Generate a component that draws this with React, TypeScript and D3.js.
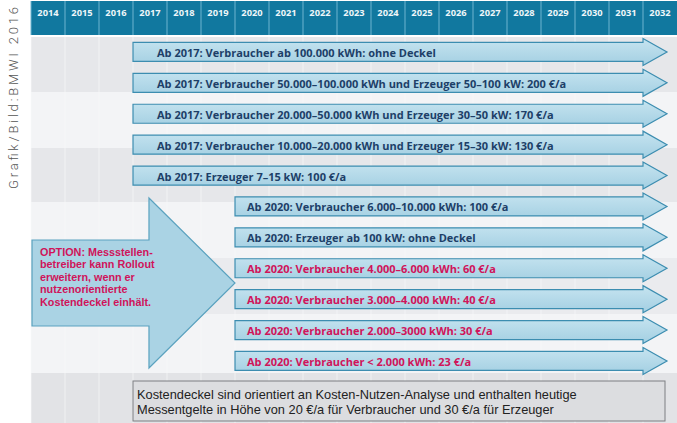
import React from "react";
import * as d3 from "d3";

// Zeitachse
const years = ["2014", "2015", "2016", "2017", "2018", "2019", "2020", "2021", "2022", "2023",
  "2024", "2025", "2026", "2027", "2028", "2029", "2030", "2031", "2032"];

// Rollout-Gruppen: Text, Startjahr, Pflicht oder Option
const labels = [
  "Ab 2017: Verbraucher ab 100.000 kWh: ohne Deckel",
  "Ab 2017: Verbraucher 50.000–100.000 kWh und Erzeuger 50–100 kW: 200 €/a",
  "Ab 2017: Verbraucher 20.000–50.000 kWh und Erzeuger 30–50 kW: 170 €/a",
  "Ab 2017: Verbraucher 10.000–20.000 kWh und Erzeuger 15–30 kW: 130 €/a",
  "Ab 2017: Erzeuger 7–15 kW: 100 €/a",
  "Ab 2020: Verbraucher 6.000–10.000 kWh: 100 €/a",
  "Ab 2020: Erzeuger ab 100 kW: ohne Deckel",
  "Ab 2020: Verbraucher 4.000–6.000 kWh: 60 €/a",
  "Ab 2020: Verbraucher 3.000–4.000 kWh: 40 €/a",
  "Ab 2020: Verbraucher 2.000–3000 kWh: 30 €/a",
  "Ab 2020: Verbraucher < 2.000 kWh: 23 €/a",
];
const startYears = ["2017", "2017", "2017", "2017", "2017", "2020", "2020", "2020", "2020", "2020", "2020"];
const kinds = ["pflicht", "pflicht", "pflicht", "pflicht", "pflicht", "pflicht", "pflicht",
  "option", "option", "option", "option"];

const optionLines = [
  "OPTION: Messstellen-",
  "betreiber kann Rollout",
  "erweitern, wenn er",
  "nutzenorientierte",
  "Kostendeckel einhält.",
];
const noteLines = [
  "Kostendeckel sind orientiert an Kosten-Nutzen-Analyse und enthalten heutige",
  "Messentgelte in Höhe von 20 €/a für Verbraucher und 30 €/a für Erzeuger",
];
const credit = "Grafik/Bild:BMWI 2016";

const width = 677;
const height = 423;
const blue = "#1d3f68";
const red = "#d0145a";
const font = "'Open Sans', sans-serif";
const narrow = "'Liberation Sans', Arial, sans-serif";

export default function App() {
  const x = d3.scaleBand().domain(years).range([31, 677]);
  const rows = d3.range(labels.length);
  const y = d3.scaleBand<number>().domain(rows).range([36.5, 376.4]);
  const bw = x.bandwidth();

  // background stripes
  const stripes = [
    [37, 92, "#e6e7ea"], [92, 148, "#f3f4f6"], [148, 202, "#e6e7ea"], [202, 258, "#f3f4f6"],
    [258, 314, "#eaebee"], [314, 373, "#f3f4f6"], [373, 423, "#e2e3e6"],
  ] as [number, number, string][];

  const shaftH = 9.5;
  const headH = 13.5;
  const endX = (x("2031") as number) + bw;
  const tipX = endX + 24;

  const arrowPath = (x0: number, cy: number) =>
    `M${x0},${cy - shaftH} L${endX},${cy - shaftH} L${endX},${cy - headH} L${tipX},${cy} ` +
    `L${endX},${cy + headH} L${endX},${cy + shaftH} L${x0},${cy + shaftH} Z`;

  // big option arrow
  const oc = 283;
  const oLeft = (x("2014") as number) + 1;
  const oBase = (x("2017") as number) + bw * 0.47;
  const oTip = x("2020") as number;
  const bigArrow =
    `M${oLeft},${oc - 43} L${oBase},${oc - 43} L${oBase},${oc - 85} L${oTip},${oc} ` +
    `L${oBase},${oc + 85} L${oBase},${oc + 43} L${oLeft},${oc + 43} Z`;

  return (
    <svg width={width} height={height} style={{ position: "absolute", left: 0, top: 0, background: "#fff" }}>
      <defs>
        <linearGradient id="barFill" x1="0" y1="0" x2="0" y2="1">
          <stop offset="0" stopColor="#c6e4f0" />
          <stop offset="1" stopColor="#a3cfe2" />
        </linearGradient>
      </defs>

      {stripes.map(([a, b, c], i) => (
        <rect key={i} x={31} y={a} width={width - 31} height={b - a} fill={c} />
      ))}
      {years.map((yr) => (
        <line key={yr} x1={x(yr)} x2={x(yr)} y1={37} y2={height} stroke="#fafbfc" strokeWidth={1} opacity={0.6} />
      ))}

      {/* header */}
      <rect x={31} y={1} width={width - 31} height={34} fill="#11789f" />
      {years.map((yr) => (
        <g key={yr}>
          <line x1={x(yr)} x2={x(yr)} y1={1} y2={35} stroke="#6fb4d0" strokeWidth={1} />
          <text x={(x(yr) as number) + bw / 2} y={12.5} textAnchor="middle" dominantBaseline="central"
            fill="#eef6f9" fontFamily={font} fontWeight={700} fontSize={9.3}>{yr}</text>
        </g>
      ))}

      {/* big option arrow */}
      <path d={bigArrow} fill="#aad3e4" stroke="#5aa2bf" strokeWidth={1.2} />
      {optionLines.map((t, i) => (
        <text key={i} x={40} y={251.5 + i * 12.5} dominantBaseline="central" fill={red}
          fontFamily={narrow} fontWeight={700} fontSize={10.8}>{t}</text>
      ))}

      {/* rollout arrows */}
      {rows.map((i) => {
        const cy = (y(i) as number) + y.bandwidth() / 2;
        const x0 = x(startYears[i]) as number;
        return (
          <g key={i}>
            <path d={arrowPath(x0, cy)} fill="url(#barFill)" stroke="#3c8db0" strokeWidth={1.2} />
            <text x={x0 + (startYears[i] === "2017" ? 24 : 12)} y={cy + 0.5} dominantBaseline="central"
              fill={kinds[i] === "option" ? red : blue} fontFamily={font} fontWeight={700} fontSize={11}>
              {labels[i]}
            </text>
          </g>
        );
      })}

      {/* note box */}
      <rect x={x("2017")} y={381} width={665 - (x("2017") as number)} height={40} fill="#dcdde0" stroke="#7d7f82" strokeWidth={1} />
      {noteLines.map((t, i) => (
        <text key={i} x={(x("2017") as number) + 4} y={394 + i * 15.2} dominantBaseline="central"
          fill="#222" fontFamily={narrow} fontSize={12.8}>{t}</text>
      ))}

      {/* credit */}
      <text transform="translate(13,98) rotate(-90)" textAnchor="middle" dominantBaseline="central"
        fill="#555" fontFamily="Roboto, sans-serif" fontWeight={300} fontSize={13}
        textLength={182} lengthAdjust="spacing">{credit}</text>
    </svg>
  );
}
